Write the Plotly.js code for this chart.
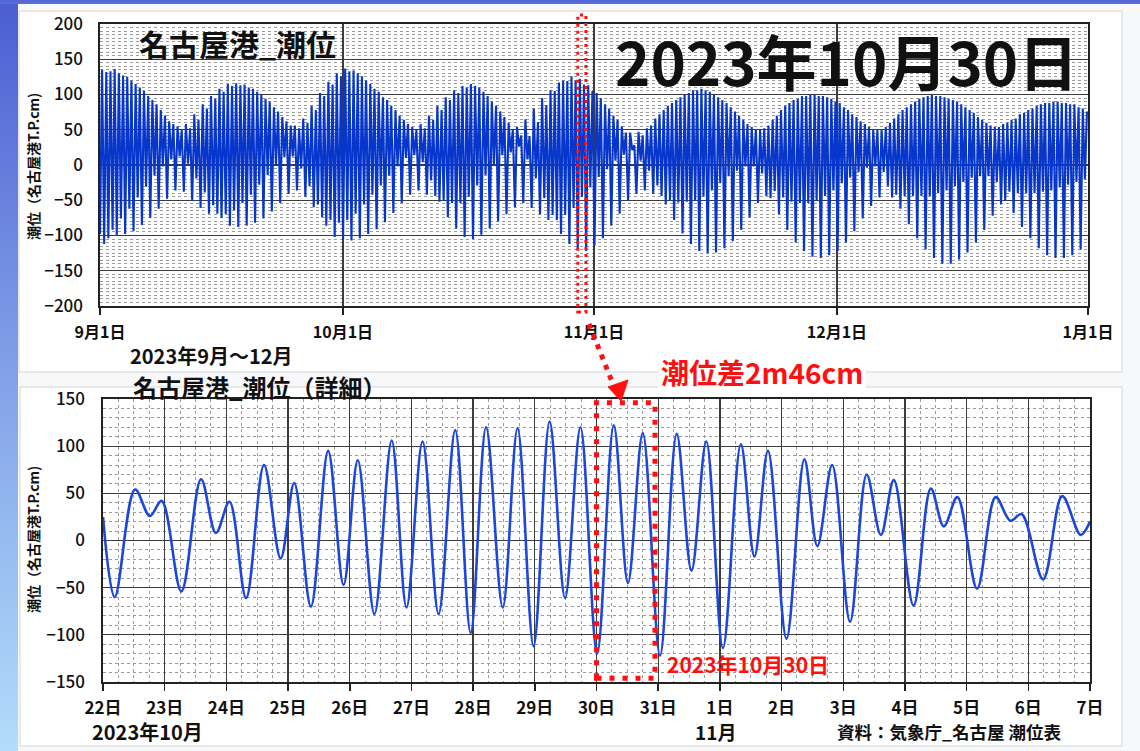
<!DOCTYPE html>
<html>
<head>
<meta charset="utf-8">
<script src="https://cdn.plot.ly/plotly-3.0.1.min.js"></script>
<style>
html,body{margin:0;padding:0;}
#chart{width:1140px;height:751px;
background:
 linear-gradient(#5064d4,#5a70da) top left/100% 4px no-repeat,
 linear-gradient(to bottom,#4b5ed2,#7d9be6 45%,#b3dcfb) top left/18px 100% no-repeat,
 #f7f8fa;}
</style>
</head>
<body>
<div id="chart"></div>
<script>
// ---- data (cm, T.P.) ----
// successive tidal extremes (low, high, low, high ...) Sep 1 – Dec 31 2023
const sepTide = [-98,135,-112,132, -104,133,-92,136, -100,130,-76,127, -98,125,-62,120, -94,115,-46,110, -85,105,-31,98, -75,92,-15,86, -62,78,-2,70, -48,62,8,58, -36,55,12,50, -38,58,2,52, -51,72,-19,64, -61,86,-39,80, -69,98,-57,94, -69,108,-75,104, -70,115,-86,112, -64,116,-88,113, -54,114,-86,110, -42,108,-82,104, -28,100,-76,94, -14,90,-66,82, 0,76,-54,68, 11,62,-41,56, 12,56,-36,52, -5,66,-45,60, -30,84,-60,78, -56,102,-74,98, -86,118,-78,114, -102,130,-82,126];
const octTide = [-106,137,-78,133, -107,134,-69,130, -104,126,-56,120, -98,115,-42,108, -91,104,-29,96, -81,92,-15,84, -68,78,-2,70, -54,64,10,58, -42,54,14,50, -36,58,4,52, -42,70,-22,64, -44,84,-52,78, -50,96,-74,92, -54,106,-90,102, -54,112,-102,110, -45,115,-105,112, -29,110,-99,104, -14,98,-90,90, 0,84,-80,76, 14,68,-70,60, 18,50,-60,54, 26,42,-54,65, 8,41,-61,80, -19,61,-70,95, -47,85,-78,106, -71,105,-78,117, -98,120,-71,119, -112,126,-61,120, -120,122,-45,114, -122,113,-32,105];
const novTide = [-114,102,-17,95, -104,86,-6,80, -86,70,6,64, -69,55,15,46, -51,46,21,28, -41,47,6,42, -36,52,-8,56, -41,66,-29,72, -44,78,-56,84, -50,88,-78,92, -53,96,-97,100, -52,102,-112,106, -50,106,-122,108, -45,106,-125,104, -36,100,-124,96, -26,92,-118,88, -16,82,-108,76, -8,70,-92,64, -2,58,-74,54, -2,50,-54,50, -12,52,-44,56, -47,64,-37,70, -70,78,-46,84, -92,88,-52,92, -110,94,-54,98, -122,98,-54,100, -130,100,-50,98, -132,98,-44,96, -128,94,-36,90];
const decTide = [-122,88,-26,82, -110,78,-18,72, -94,68,-10,62, -76,58,-4,54, -58,50,-2,50, -46,50,-10,54, -30,60,-46,66, -42,72,-62,78, -44,82,-84,86, -44,90,-104,94, -44,96,-120,98, -44,100,-132,98, -40,98,-140,96, -36,94,-140,92, -30,90,-134,86, -24,82,-124,78, -18,74,-110,68, -16,64,-92,60, -16,56,-72,54, -24,54,-56,58, -50,60,-38,64, -68,66,-40,72, -88,74,-40,78, -104,80,-40,84, -118,86,-38,88, -128,88,-36,90, -132,90,-32,88, -132,88,-28,86, -128,86,-24,82, -120,80,-20,76];
const tideStart = '2023-09-01';
const tideStepHours = 6.21;   // time between successive extremes

// detail: Oct 22 – Nov 7 (day offset from Oct 22 00:00, level cm)
const detailDay = [0,0.19,0.52,0.76,0.95, 1.27,1.59,1.83,2.05, 2.32,2.61,2.88,3.10, 3.37,3.65,3.90,4.13, 4.40,4.68,4.92,5.18, 5.44,5.71,5.96,6.21, 6.48,6.72,6.98,7.24, 7.49,7.74,8.01,8.28, 8.51,8.75,9.03,9.30, 9.54,9.78,10.05,10.34, 10.56,10.78,11.08,11.37, 11.58,11.82,12.11,12.38, 12.61,12.82,13.14,13.42, 13.63,13.85,14.17,14.47, 14.71,14.89,15.24,15.55, 15.85,16];
const detailCm  = [25,-60,54,26,42, -54,65,8,41, -61,80,-19,61, -70,95,-47,85, -78,106,-71,105, -78,117,-98,120, -71,119,-112,126, -61,120,-120,122, -45,114,-122,113, -32,105,-114,102, -17,95,-104,86, -6,80,-86,70, 6,64,-69,55, 15,46,-51,46, 21,28,-41,47, 6,20];
const detailStart = '2023-10-22';

const topTicks = ['2023-09-01','2023-10-01','2023-11-01','2023-12-01','2024-01-01'];
const highlightDay = ['2023-10-30','2023-10-31'];

// ---- build ----
const W = 1140, H = 751;
const px = x => x / W, py = y => 1 - y / H;
const HOUR = 3600000, DAY = 86400000;
const ms = s => Date.parse(s + 'T00:00:00Z');

const topCm = [].concat(sepTide, octTide, novTide, decTide);
const topX = topCm.map((_, i) => ms(tideStart) + i * tideStepHours * HOUR);
const detX = detailDay.map(d => ms(detailStart) + d * DAY);

const JP = "'Noto Sans CJK JP','Noto Sans',sans-serif";
const f = (size, color, weight) => ({family: JP, size: size, color: color || '#111', weight: weight || 700});

const gridMajor = '#3c3c3c', gridMinor = '#9a9a9a';

const traces = [
  {x: topX, y: topCm, xaxis: 'x', yaxis: 'y', type: 'scatter', mode: 'lines',
   line: {color: '#0636cc', width: 2.1}, hoverinfo: 'skip'},
  {x: detX, y: detailCm, xaxis: 'x2', yaxis: 'y2', type: 'scatter', mode: 'lines',
   line: {color: '#1d46da', width: 2.6, shape: 'spline', smoothing: 1}, hoverinfo: 'skip'}
];

function ann(text, x, y, font, extra) {
  return Object.assign({text: text, x: px(x), y: py(y), xref: 'paper', yref: 'paper',
    showarrow: false, font: font, xanchor: 'center', yanchor: 'middle'}, extra || {});
}

const red = '#ff1010';
const layout = {
  width: W, height: H, margin: {l: 0, r: 0, t: 0, b: 0},
  paper_bgcolor: 'rgba(0,0,0,0)', plot_bgcolor: '#ffffff', showlegend: false,
  xaxis: {type: 'date', domain: [px(100), px(1088)], anchor: 'y',
    range: [ms(topTicks[0]), ms(topTicks[4])], tickvals: topTicks.map(ms), tickformat: '%-m月%-d日',
    showgrid: true, gridcolor: gridMajor, gridwidth: 1.3, zeroline: false,
    showline: true, linecolor: '#222', linewidth: 1.6, mirror: true,
    ticks: 'outside', ticklen: 7, tickcolor: '#222', tickwidth: 1.5, ticklabelstandoff: 4,
    tickfont: f(16)},
  yaxis: {domain: [py(306), py(24)], anchor: 'x', range: [-200, 200], tick0: 0, dtick: 50,
    showgrid: true, gridcolor: gridMajor, gridwidth: 1.3, zeroline: false,
    showline: true, linecolor: '#222', linewidth: 1.6, mirror: true, ticks: '',
    ticklabelstandoff: 12, tickfont: f(17, '#111', 500),
    minor: {dtick: 5, showgrid: true, gridcolor: gridMinor, griddash: 'dot', gridwidth: 1}},
  xaxis2: {type: 'date', domain: [px(103), px(1090)], anchor: 'y2',
    range: [ms('2023-10-22'), ms('2023-11-07')], tick0: ms('2023-10-22'), dtick: DAY, tickformat: '%-d日',
    showgrid: true, gridcolor: gridMajor, gridwidth: 1.3, zeroline: false,
    showline: true, linecolor: '#222', linewidth: 1.6, mirror: true,
    ticks: 'outside', ticklen: 7, tickcolor: '#222', tickwidth: 1.5, ticklabelstandoff: 3,
    tickfont: f(17),
    minor: {dtick: 6 * HOUR, showgrid: true, gridcolor: gridMinor, griddash: 'dot', gridwidth: 1}},
  yaxis2: {domain: [py(682), py(399)], anchor: 'x2', range: [-150, 150], tick0: 0, dtick: 50,
    showgrid: true, gridcolor: gridMajor, gridwidth: 1.3, zeroline: false,
    showline: true, linecolor: '#222', linewidth: 1.6, mirror: true, ticks: '',
    ticklabelstandoff: 13, tickfont: f(17, '#111', 500),
    minor: {dtick: 10, showgrid: true, gridcolor: gridMinor, griddash: 'dot', gridwidth: 1}},
  shapes: [
    {type: 'rect', xref: 'paper', yref: 'paper', x0: px(19), x1: px(1122), y0: py(372), y1: py(11),
     fillcolor: '#ffffff', line: {color: '#d4d4d4', width: 1}, layer: 'below'},
    {type: 'rect', xref: 'paper', yref: 'paper', x0: px(20), x1: px(1122), y0: py(746), y1: py(387),
     fillcolor: '#ffffff', line: {color: '#d4d4d4', width: 1}, layer: 'below'},
    // highlighted day in overview
    {type: 'rect', xref: 'x', yref: 'paper', x0: ms(highlightDay[0]), x1: ms(highlightDay[1]),
     y0: py(312), y1: py(15), line: {color: red, width: 3, dash: '3px,4px'}},
    // arrow
    {type: 'line', xref: 'paper', yref: 'paper', x0: px(589), y0: py(324), x1: px(613), y1: py(384),
     line: {color: red, width: 5, dash: '5px,6px'}},
    {type: 'path', xref: 'paper', yref: 'paper',
     path: 'M ' + px(608) + ' ' + py(387) + ' L ' + px(628) + ' ' + py(380) + ' L ' + px(621) + ' ' + py(401) + ' Z',
     fillcolor: red, line: {color: red, width: 1}},
    // highlighted day in detail
    {type: 'rect', xref: 'x2', yref: 'y2', x0: ms(highlightDay[0]), x1: ms(highlightDay[1]) - 75 * 60000,
     y0: -146, y1: 146, line: {color: red, width: 5, dash: '5px,8px'}}
  ],
  annotations: [
    ann('名古屋港_潮位', 237, 43, f(30)),
    ann('2023年10月30日', 846, 60, f(60)),
    ann('潮位（名古屋港T.P.cm)', 33, 167, f(14), {textangle: -90}),
    ann('2023年9月～12月', 211, 355, f(20)),
    ann('潮位差2m46cm', 762, 372, f(28, red), {bgcolor: '#ffffff', borderpad: 2}),
    ann('名古屋港_潮位（詳細）', 260, 386, f(24)),
    ann('潮位（名古屋港T.P.cm)', 33, 540, f(14), {textangle: -90}),
    ann('2023年10月30日', 665, 664, f(21, red), {xanchor: 'left'}),
    ann('2023年10月', 148, 731, f(20)),
    ann('11月', 715, 731, f(19)),
    ann('資料：気象庁_名古屋 潮位表', 949, 731, f(17.5))
  ]
};

Plotly.newPlot('chart', traces, layout, {staticPlot: true, displayModeBar: false});
</script>
</body>
</html>
